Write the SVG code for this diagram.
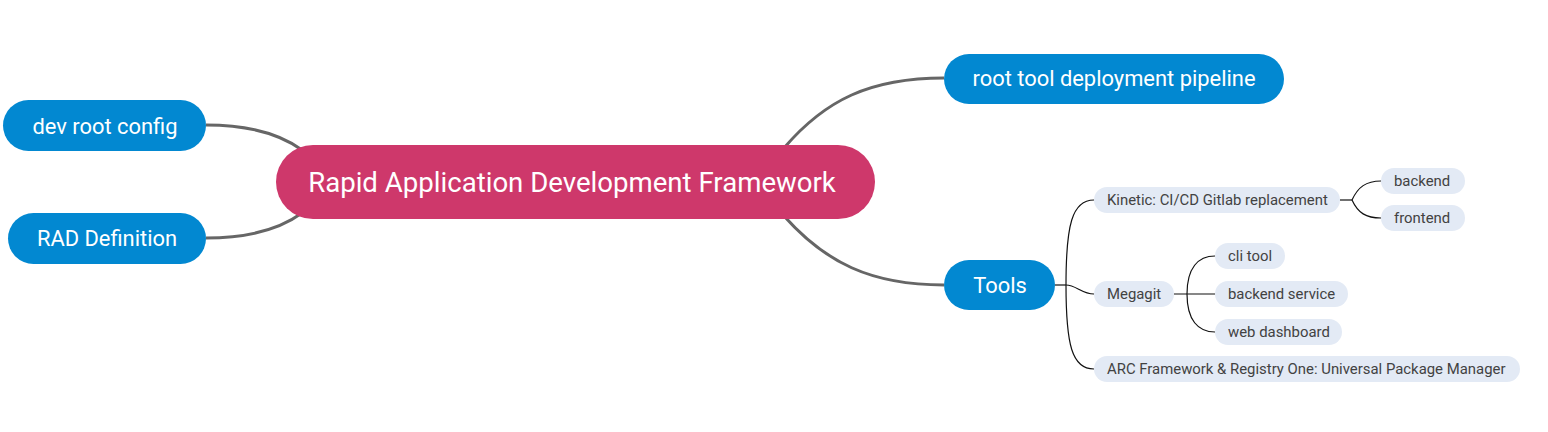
<svg xmlns="http://www.w3.org/2000/svg" width="1548" height="432" viewBox="0 0 1548 432">
<style>
.main{fill:#CE386B}
.blue{fill:#0288D1}
.sub{fill:#E3EAF5}
.tw{fill:#fff;font-family:Roboto,"Liberation Sans",sans-serif;text-anchor:middle;dominant-baseline:central}
.t1{font-size:21.9px}
.t0{font-size:27.6px}
.ts{fill:#424242;font-family:Roboto,"Liberation Sans",sans-serif;font-size:14.9px;dominant-baseline:central}
.thick{fill:none;stroke:#666;stroke-width:3}
.thin{fill:none;stroke:#111;stroke-width:1.2}
</style>
<rect width="1548" height="432" fill="#fff"/>
<g id="connectors">
<path class="thick" d="M206,125 C250,125 280,134 302,150"/>
<path class="thick" d="M206,238 C250,238 280,229 302,213"/>
<path class="thick" d="M784,148 C825,100 870,78 944,78"/>
<path class="thick" d="M784,216 C825,262 870,285 944,285"/>
<path class="thin" d="M1055,285 H1066"/>
<path class="thin" d="M1066,285 C1066,225 1072,200 1094,200"/>
<path class="thin" d="M1066,285 C1076,285 1082,294 1094,294"/>
<path class="thin" d="M1066,285 C1066,345 1072,369 1094,369"/>
<path class="thin" d="M1340,200 H1352"/>
<path class="thin" d="M1352,200 C1358,187 1366,181 1381,181"/>
<path class="thin" d="M1352,200 C1358,213 1366,218 1381,218"/>
<path class="thin" d="M1174,294 H1215"/>
<path class="thin" d="M1187,294 C1187,268 1198,256 1215,256"/>
<path class="thin" d="M1187,294 C1187,320 1198,332 1215,332"/>
</g>
<g id="central">
<rect class="main" x="276" y="145" width="599" height="74" rx="37"/>
<text class="tw t0" x="572" y="182">Rapid Application Development Framework</text>
</g>
<g id="dev-root-config">
<rect class="blue" x="3" y="100" width="203" height="51" rx="25.5"/>
<text class="tw t1" x="105" y="126">dev root config</text>
</g>
<g id="rad-definition">
<rect class="blue" x="8" y="213" width="198" height="51" rx="25.5"/>
<text class="tw t1" x="107" y="238">RAD Definition</text>
</g>
<g id="root-tool-deployment-pipeline">
<rect class="blue" x="944" y="54" width="340" height="50" rx="25"/>
<text class="tw t1" x="1114" y="78">root tool deployment pipeline</text>
</g>
<g id="tools">
<rect class="blue" x="944" y="260" width="111" height="50" rx="25"/>
<text class="tw t1" x="1000" y="285">Tools</text>
</g>
<g id="kinetic">
<rect class="sub" x="1094" y="187" width="246" height="26" rx="13"/>
<text class="ts" x="1107" y="200">Kinetic: CI/CD Gitlab replacement</text>
</g>
<g id="backend">
<rect class="sub" x="1381" y="168" width="84" height="26" rx="13"/>
<text class="ts" x="1394" y="181">backend</text>
</g>
<g id="frontend">
<rect class="sub" x="1381" y="205" width="84" height="26" rx="13"/>
<text class="ts" x="1394" y="218">frontend</text>
</g>
<g id="megagit">
<rect class="sub" x="1094" y="281" width="80" height="26" rx="13"/>
<text class="ts" x="1107" y="294">Megagit</text>
</g>
<g id="cli-tool">
<rect class="sub" x="1215" y="243" width="70" height="26" rx="13"/>
<text class="ts" x="1228" y="256">cli tool</text>
</g>
<g id="backend-service">
<rect class="sub" x="1215" y="281" width="133" height="26" rx="13"/>
<text class="ts" x="1228" y="294">backend service</text>
</g>
<g id="web-dashboard">
<rect class="sub" x="1215" y="319" width="127" height="26" rx="13"/>
<text class="ts" x="1228" y="332">web dashboard</text>
</g>
<g id="arc">
<rect class="sub" x="1094" y="356" width="426" height="26" rx="13"/>
<text class="ts" x="1107" y="369">ARC Framework &amp; Registry One: Universal Package Manager</text>
</g>
</svg>
